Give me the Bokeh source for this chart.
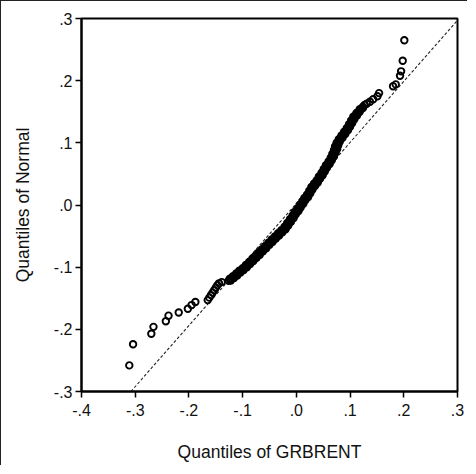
from bokeh.plotting import figure
from bokeh.models import Range1d, FixedTicker
from bokeh.embed import file_html
from bokeh.resources import INLINE

# Quantiles of GRBRENT (x) vs quantiles of Normal (y)
q_grbrent = [
    -0.311, -0.304, -0.270, -0.266, -0.243, -0.238, -0.219, -0.202, -0.195, -0.188,
    -0.165, -0.162, -0.159, -0.156, -0.153, -0.150, -0.147, -0.144, -0.139,
    -0.126, -0.123, -0.120, -0.117, -0.114, -0.111, -0.108, -0.105, -0.102, -0.099,
    -0.096, -0.093, -0.090, -0.087, -0.084, -0.081, -0.078, -0.075, -0.072, -0.069,
    -0.066, -0.063, -0.060, -0.057, -0.054, -0.051, -0.048, -0.045, -0.042, -0.039,
    -0.036, -0.033, -0.030, -0.027, -0.024, -0.021, -0.018, -0.016, -0.014, -0.011,
    -0.009, -0.006, -0.004, -0.002, 0.001, 0.003, 0.005, 0.007, 0.010, 0.012,
    0.014, 0.016, 0.018, 0.021, 0.023, 0.025, 0.027, 0.029, 0.032, 0.034,
    0.036, 0.039, 0.041, 0.043, 0.046, 0.048, 0.050, 0.052, 0.054, 0.056,
    0.058, 0.061, 0.063, 0.065, 0.067, 0.069, 0.070, 0.071, 0.073, 0.074,
    0.075, 0.077, 0.078, 0.080, 0.082, 0.085, 0.087, 0.090, 0.092, 0.095,
    0.097, 0.099, 0.101, 0.103, 0.105, 0.107, 0.109, 0.112, 0.115, 0.118,
    0.121, 0.124, 0.127,
    0.131, 0.137, 0.143, 0.151, 0.154,
    0.180, 0.185, 0.193, 0.195, 0.198, 0.201,
]
q_normal = [
    -0.258, -0.224, -0.207, -0.196, -0.187, -0.178, -0.173, -0.167, -0.161, -0.156,
    -0.153, -0.149, -0.145, -0.141, -0.137, -0.133, -0.129, -0.126, -0.124,
    -0.122, -0.120, -0.118, -0.116, -0.114, -0.112, -0.109, -0.107, -0.105, -0.103,
    -0.101, -0.098, -0.096, -0.093, -0.091, -0.088, -0.086, -0.083, -0.081, -0.078,
    -0.075, -0.073, -0.070, -0.068, -0.065, -0.062, -0.060, -0.057, -0.055, -0.052,
    -0.050, -0.047, -0.045, -0.042, -0.040, -0.037, -0.034, -0.031, -0.028, -0.025,
    -0.022, -0.019, -0.016, -0.013, -0.010, -0.008, -0.005, -0.002, 0.001, 0.004,
    0.007, 0.010, 0.012, 0.015, 0.018, 0.021, 0.024, 0.027, 0.030, 0.033,
    0.035, 0.038, 0.041, 0.044, 0.047, 0.050, 0.053, 0.056, 0.059, 0.062,
    0.065, 0.068, 0.071, 0.074, 0.077, 0.080, 0.083, 0.086, 0.089, 0.092,
    0.095, 0.098, 0.101, 0.104, 0.107, 0.110, 0.113, 0.116, 0.119, 0.122,
    0.125, 0.128, 0.131, 0.134, 0.137, 0.140, 0.143, 0.146, 0.149, 0.152,
    0.155, 0.158, 0.161,
    0.163, 0.166, 0.170, 0.175, 0.180,
    0.191, 0.194, 0.208, 0.215, 0.232, 0.265,
]

# Further observations inside the dense central band
q_grbrent_band = [
    -0.122, -0.124, -0.116, -0.118, -0.110, -0.112, -0.104, -0.106, -0.098, -0.100,
    -0.092, -0.094, -0.086, -0.088, -0.080, -0.082, -0.074, -0.076, -0.068, -0.070,
    -0.062, -0.064, -0.056, -0.058, -0.050, -0.052, -0.044, -0.046, -0.038, -0.040,
    -0.032, -0.034, -0.026, -0.028, -0.020, -0.022, -0.015, -0.017, -0.010, -0.012,
    -0.005, -0.007, -0.001, -0.003, 0.004, 0.002, 0.008, 0.006, 0.013, 0.011,
    0.017, 0.015, 0.022, 0.020, 0.026, 0.024, 0.030, 0.028, 0.035, 0.033,
    0.040, 0.038, 0.044, 0.042, 0.049, 0.047, 0.053, 0.051, 0.057, 0.055,
    0.062, 0.060, 0.066, 0.064, 0.070, 0.067, 0.073, 0.070, 0.076, 0.072,
    0.078, 0.075, 0.081, 0.079, 0.086, 0.084, 0.091, 0.089, 0.096, 0.094,
    0.100, 0.098, 0.104, 0.102, 0.108, 0.106, 0.113, 0.112, 0.118, 0.118, 0.124,
]
q_normal_band = [
    -0.1215, -0.1185, -0.1175, -0.1145, -0.1135, -0.110, -0.1085, -0.1055, -0.1045, -0.1015,
    -0.100, -0.0965, -0.095, -0.0915, -0.090, -0.0865, -0.085, -0.0815, -0.080, -0.076,
    -0.0745, -0.071, -0.0695, -0.066, -0.064, -0.0605, -0.059, -0.0555, -0.054, -0.0505,
    -0.049, -0.0455, -0.044, -0.0405, -0.039, -0.035, -0.033, -0.029, -0.027, -0.023,
    -0.021, -0.017, -0.015, -0.011, -0.0095, -0.006, -0.004, 0.000, 0.002, 0.006,
    0.008, 0.0115, 0.013, 0.017, 0.019, 0.023, 0.025, 0.029, 0.031, 0.0345,
    0.036, 0.040, 0.042, 0.046, 0.048, 0.052, 0.054, 0.058, 0.060, 0.064,
    0.066, 0.070, 0.072, 0.076, 0.078, 0.082, 0.084, 0.088, 0.090, 0.094,
    0.096, 0.100, 0.102, 0.106, 0.108, 0.112, 0.114, 0.118, 0.120, 0.124,
    0.126, 0.130, 0.132, 0.136, 0.138, 0.142, 0.144, 0.148, 0.150, 0.154, 0.156,
]

# Reference line (ends)
ref_x = [-0.308, 0.300]
ref_y = [-0.300, 0.297]

x_ticks = [-0.4, -0.3, -0.2, -0.1, 0.0, 0.1, 0.2, 0.3]
x_tick_labels = ["-.4", "-.3", "-.2", "-.1", ".0", ".1", ".2", ".3"]
y_ticks = [-0.3, -0.2, -0.1, 0.0, 0.1, 0.2, 0.3]
y_tick_labels = ["-.3", "-.2", "-.1", ".0", ".1", ".2", ".3"]

FONT = "Liberation Sans"

p = figure(width=467, height=465, output_backend="svg", toolbar_location=None,
           x_range=Range1d(-0.4, 0.3), y_range=Range1d(-0.3, 0.3),
           min_border_left=80, min_border_right=11, min_border_top=17, min_border_bottom=75)
p.styles = {"border-top": "1px solid #222", "border-left": "1px solid #222"}
p.background_fill_color = "white"
p.border_fill_color = "white"
p.xgrid.visible = False
p.ygrid.visible = False
p.outline_line_color = "black"
p.outline_line_width = 2

p.line(ref_x, ref_y, line_color="#222222", line_width=1.1, line_dash="3 2")
p.scatter(q_grbrent + q_grbrent_band, q_normal + q_normal_band, marker="circle",
          size=6.5, fill_color=None, line_color="black", line_width=1.9)

for ax, ticks, labels in ((p.xaxis[0], x_ticks, x_tick_labels), (p.yaxis[0], y_ticks, y_tick_labels)):
    ax.ticker = FixedTicker(ticks=ticks)
    ax.major_label_overrides = {t: l for t, l in zip(ticks, labels)}
    ax.axis_line_width = 2
    ax.axis_line_color = "black"
    ax.major_tick_line_color = "black"
    ax.major_tick_line_width = 1.5
    ax.major_tick_out = 6
    ax.major_tick_in = 0
    ax.minor_tick_line_color = None
    ax.major_label_text_font = FONT
    ax.major_label_text_font_size = "16px"
    ax.major_label_text_color = "#111111"
    ax.axis_label_text_font = FONT
    ax.axis_label_text_font_size = "17.5px"
    ax.axis_label_text_font_style = "normal"
    ax.axis_label_text_color = "#111111"

p.xaxis.axis_label = "Quantiles of GRBRENT"
p.yaxis.axis_label = "Quantiles of Normal"
p.xaxis.major_label_standoff = 6
p.yaxis.major_label_standoff = 3
p.xaxis.axis_label_standoff = 23
p.yaxis.axis_label_standoff = 18

open("out.html", "w").write(file_html(p, INLINE))
